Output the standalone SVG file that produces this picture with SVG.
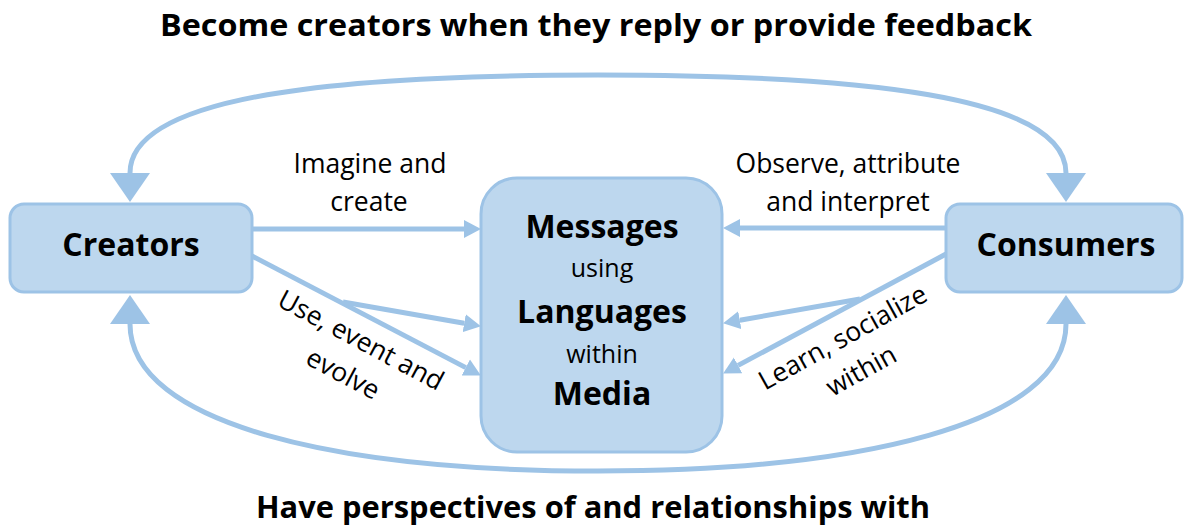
<svg xmlns="http://www.w3.org/2000/svg" width="1184" height="530" viewBox="0 0 1184 530">
<style>
.box{fill:#BDD7EE;stroke:#9DC3E6;stroke-width:3}
.ln{fill:none;stroke:#9DC3E6;stroke-width:5}
.b{font-family:"Open Sans","Noto Sans",sans-serif;font-weight:bold;fill:#000}
.r{font-family:"Open Sans","Noto Sans",sans-serif;fill:#000}
</style>
<defs>
<marker id="ah" markerUnits="userSpaceOnUse" markerWidth="18" markerHeight="20" refX="0" refY="9" orient="auto" viewBox="0 0 18 18">
<path d="M0,0 L17,9 L0,18 Z" fill="#9DC3E6"/>
</marker>
<marker id="big" markerUnits="userSpaceOnUse" markerWidth="30" markerHeight="40" refX="0" refY="20" orient="auto-start-reverse" viewBox="0 0 30 40">
<path d="M0,0 L29,20 L0,40 Z" fill="#9DC3E6"/>
</marker>
</defs>
<text class="b" x="596" y="36" font-size="31" text-anchor="middle" textLength="872" lengthAdjust="spacingAndGlyphs">Become creators when they reply or provide feedback</text>
<text class="b" x="593" y="518" font-size="31" text-anchor="middle" textLength="674" lengthAdjust="spacingAndGlyphs">Have perspectives of and relationships with</text>
<g id="connectors">
<path class="ln" d="M130,173 C130,95 340,75 598,75 C856,75 1066,95 1066,173" marker-start="url(#big)" marker-end="url(#big)"/>
<path class="ln" d="M130,324 C130,425 340,471 598,471 C856,471 1066,425 1066,324" marker-start="url(#big)" marker-end="url(#big)"/>
<path class="ln" d="M252,229 L464,229" marker-end="url(#ah)"/>
<path class="ln" d="M946,228 L740,228" marker-end="url(#ah)"/>
<path class="ln" d="M252,256 L465.8,367.6" marker-end="url(#ah)"/>
<path class="ln" d="M343,302 L464.2,323.2" marker-end="url(#ah)"/>
<path class="ln" d="M946,254 L738.1,365.4" marker-end="url(#ah)"/>
<path class="ln" d="M860,299 L739.8,320.2" marker-end="url(#ah)"/>
</g>
<g id="creators">
<rect class="box" x="10" y="204" width="242" height="88" rx="14"/>
<text class="b" x="131" y="256" font-size="32" text-anchor="middle">Creators</text>
</g>
<g id="consumers">
<rect class="box" x="946" y="204" width="236" height="88" rx="14"/>
<text class="b" x="1066" y="256" font-size="32" text-anchor="middle">Consumers</text>
</g>
<g id="messages">
<rect class="box" x="481" y="178" width="241" height="274" rx="36"/>
<text class="b" x="602" y="238" font-size="32" text-anchor="middle">Messages</text>
<text class="r" x="602" y="277" font-size="25" text-anchor="middle">using</text>
<text class="b" x="602" y="323" font-size="32" text-anchor="middle">Languages</text>
<text class="r" x="602" y="363" font-size="25" text-anchor="middle">within</text>
<text class="b" x="602" y="405" font-size="32" text-anchor="middle">Media</text>
</g>
<g id="label-imagine">
<text class="r" x="370" y="173" font-size="26.5" text-anchor="middle">Imagine and</text>
<text class="r" x="369" y="211" font-size="26.5" text-anchor="middle">create</text>
</g>
<g id="label-observe">
<text class="r" x="848" y="173" font-size="26.5" text-anchor="middle">Observe, attribute</text>
<text class="r" x="848" y="211" font-size="26.5" text-anchor="middle">and interpret</text>
</g>
<g id="label-use" transform="translate(352,357) rotate(28)">
<text class="r" x="0" y="-10" font-size="26.5" text-anchor="middle">Use, event and</text>
<text class="r" x="0" y="28" font-size="26.5" text-anchor="middle">evolve</text>
</g>
<g id="label-learn" transform="translate(852,354) rotate(-29)">
<text class="r" x="0" y="-10" font-size="26.5" text-anchor="middle">Learn, socialize</text>
<text class="r" x="0" y="28" font-size="26.5" text-anchor="middle">within</text>
</g>
</svg>
